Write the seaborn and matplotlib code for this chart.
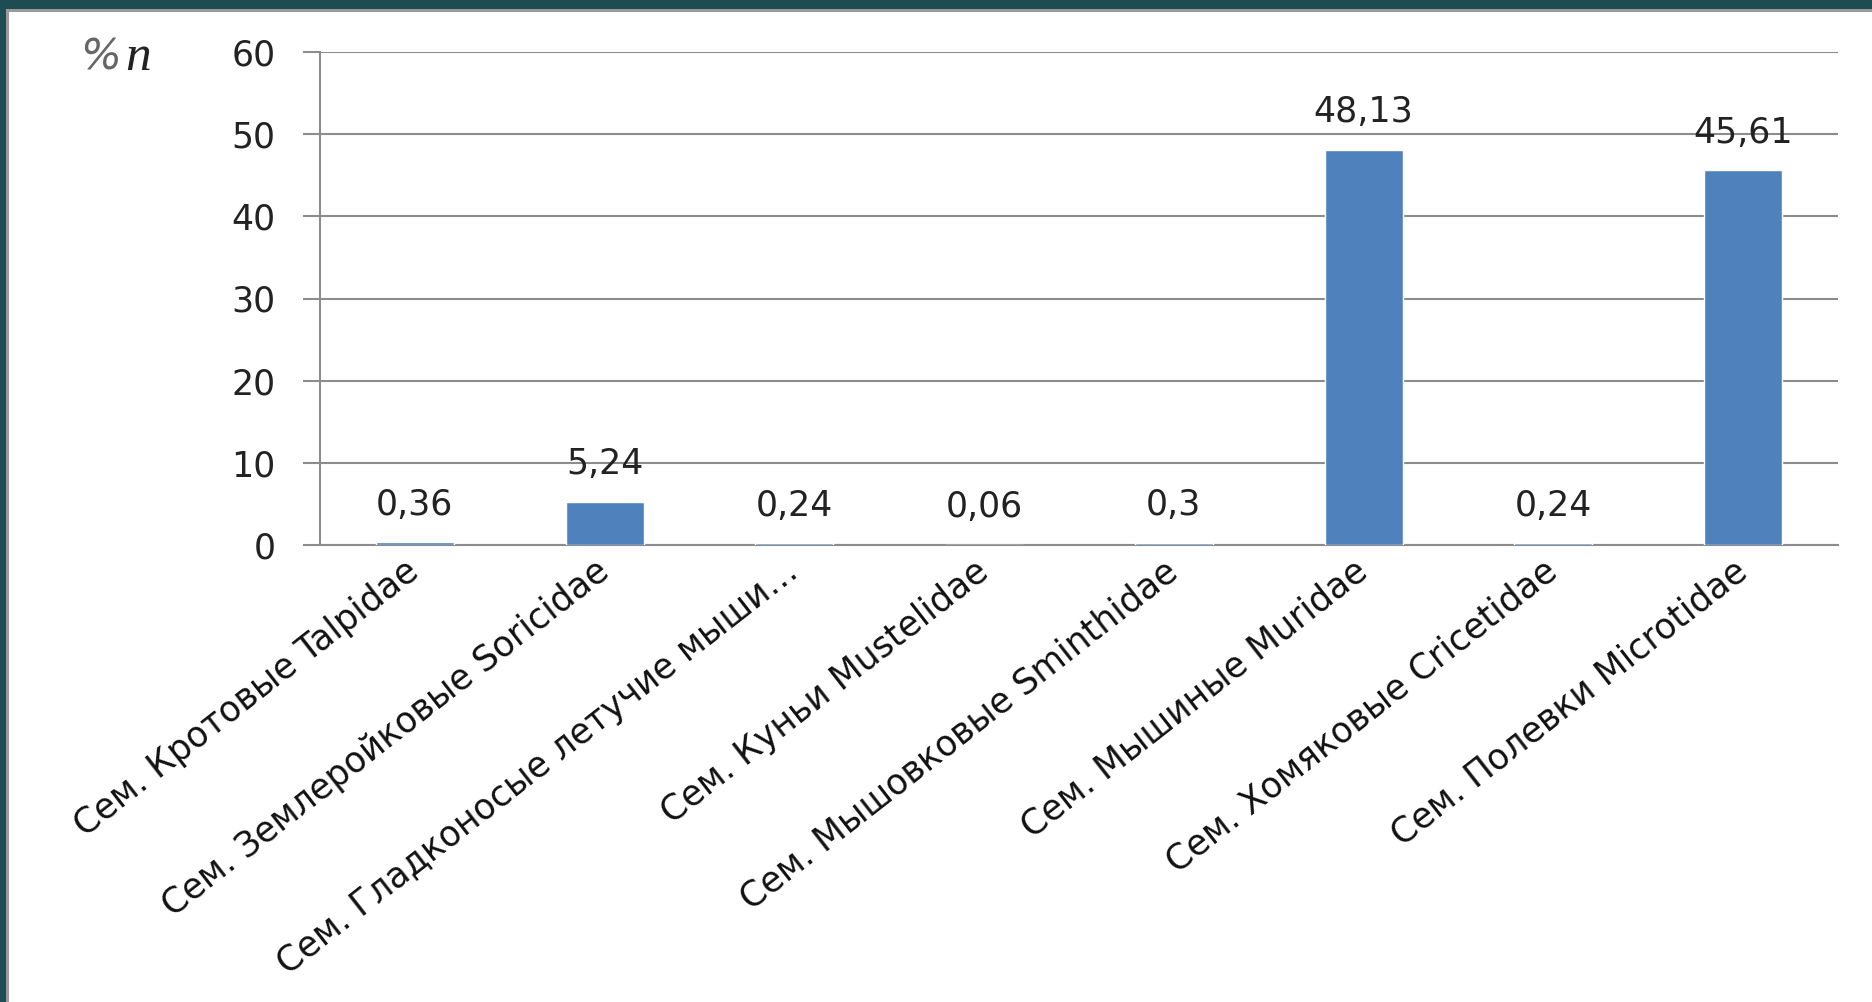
import matplotlib
matplotlib.use("Agg")
import matplotlib.pyplot as plt
import seaborn as sns
import pandas as pd
from matplotlib.patches import Rectangle

categories = [
    "Сем. Кротовые Talpidae",
    "Сем. Землеройковые Soricidae",
    "Сем. Гладконосые летучие мыши…",
    "Сем. Куньи Mustelidae",
    "Сем. Мышовковые Sminthidae",
    "Сем. Мышиные Muridae",
    "Сем. Хомяковые Cricetidae",
    "Сем. Полевки Microtidae",
]
values = [0.36, 5.24, 0.24, 0.06, 0.3, 48.13, 0.24, 45.61]
yticks = [0, 10, 20, 30, 40, 50, 60]

sns.set_theme(style="white")
plt.rcParams["font.family"] = ["DejaVu Sans"]

W, H, DPI = 1872, 1002, 100
fig = plt.figure(figsize=(W / DPI, H / DPI), dpi=DPI, facecolor="white")

# frame (dark teal band top and left)
teal = "#1E4C53"
fig.patches.append(Rectangle((0, 1 - 9 / H), 1, 9 / H, transform=fig.transFigure,
                             facecolor=teal, edgecolor="none", zorder=0))
fig.patches.append(Rectangle((0, 1 - 12 / H), 1, 3 / H, transform=fig.transFigure,
                             facecolor="#9a9a9a", edgecolor="none", zorder=0))
fig.patches.append(Rectangle((0, 0), 6 / W, 1, transform=fig.transFigure,
                             facecolor=teal, edgecolor="none", zorder=0))
fig.patches.append(Rectangle((6 / W, 0), 3 / W, 1 - 9 / H, transform=fig.transFigure,
                             facecolor="#9a9a9a", edgecolor="none", zorder=0))

left, right = 320 / W, 1838 / W
bottom, top = 1 - 545 / H, 1 - 52 / H
ax = fig.add_axes([left, bottom, right - left, top - bottom])

df = pd.DataFrame({"cat": categories, "val": values})
sns.barplot(data=df, x="cat", y="val", color="#4F81BD", saturation=1,
            width=0.41, ax=ax, zorder=3)

ax.set_ylim(0, 60)
ax.set_yticks(yticks)
ax.set_yticklabels([str(t) for t in yticks], fontsize=25, color="#222222")
ax.set_xlim(-0.5, len(categories) - 0.5)

grid_col = "#8c8c8c"
ax.yaxis.grid(True, color=grid_col, linewidth=1.5, zorder=0)
ax.xaxis.grid(False)
for s in ["top", "right"]:
    ax.spines[s].set_visible(False)
ax.spines["left"].set_color(grid_col)
ax.spines["left"].set_linewidth(1.5)
ax.spines["bottom"].set_color(grid_col)
ax.spines["bottom"].set_linewidth(1.5)
ax.tick_params(axis="y", which="both", left=True, length=12, width=1.5,
               color=grid_col, pad=20, direction="out")
ax.tick_params(axis="x", bottom=False, pad=10)

ax.set_xticks(range(len(categories)))
ax.set_xticklabels(categories, rotation=38, ha="right", va="center",
                   rotation_mode="anchor", fontsize=25, color="#111111")
ax.set_xlabel("")
ax.set_ylabel("")

for i, v in enumerate(values):
    lbl = f"{v:g}".replace(".", ",")
    ax.annotate(lbl, (i, v), xytext=(0, 27), textcoords="offset points",
                ha="center", va="center", fontsize=25, color="#222222", zorder=5)

fig.text(80 / W, 1 - 58 / H, "%", fontsize=31, family="DejaVu Sans",
         style="italic", fontweight="light", color="#666666", va="center", ha="left")
fig.text(125 / W, 1 - 58 / H, "n", fontsize=37, family="Liberation Serif",
         style="italic", color="#222222", va="center", ha="left")

fig.savefig("out.png", dpi=DPI, facecolor="white")
